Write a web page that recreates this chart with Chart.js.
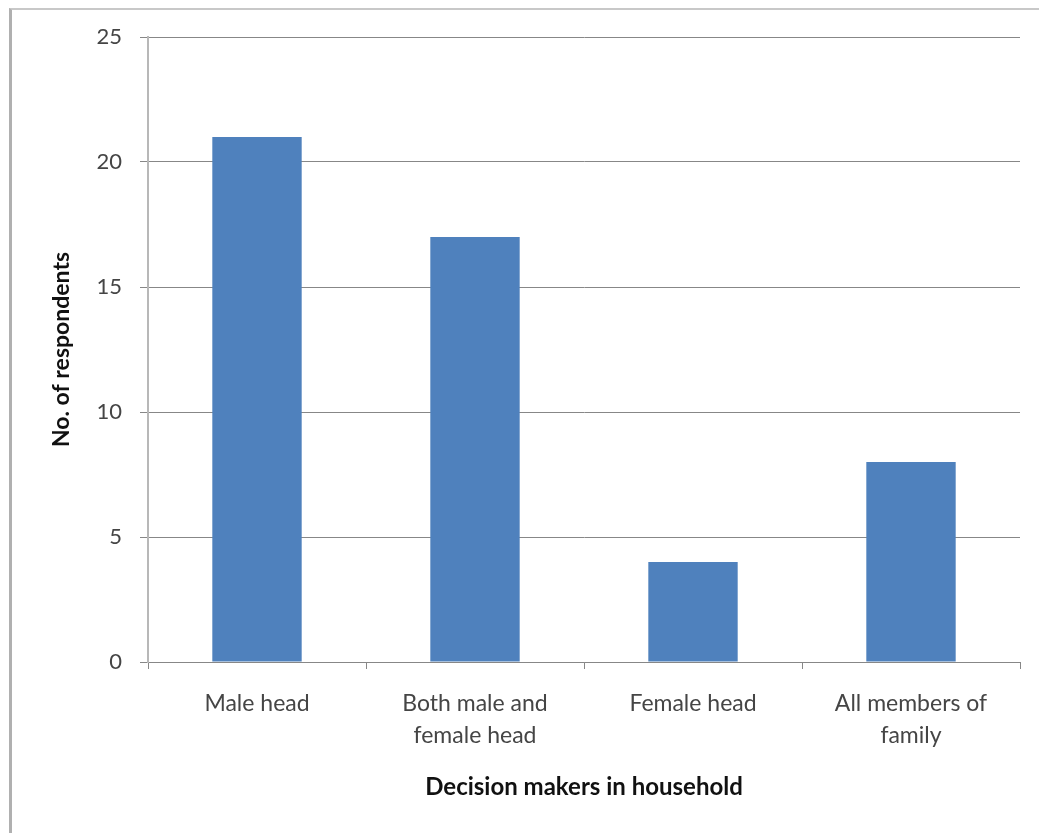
<!DOCTYPE html>
<html>
<head>
<meta charset="utf-8">
<script src="https://cdn.jsdelivr.net/npm/chart.js@4"></script>
<style>
  html, body { margin: 0; padding: 0; background: #fff; }
  .wrap { position: relative; width: 1039px; height: 833px; }
  .frame { position: absolute; left: 9px; top: 8px; right: 0; bottom: 0;
           border-left: 3px solid #b0b0b0; border-top: 2px solid #c8c8c8; pointer-events: none; }
  canvas { position: absolute; left: 0; top: 0; }
</style>
</head>
<body>
<div class="wrap">
  <canvas id="chart" width="1039" height="833"></canvas>
  <div class="frame"></div>
</div>
<script>
// datos
const categories = [
  'Male head',
  ['Both male and', 'female head'],
  'Female head',
  ['All members of', 'family']
];
const respondents = [21, 17, 4, 8];
const yTicks = [0, 5, 10, 15, 20, 25];

const gridGray = '#878787';
const textGray = '#454545';
const fam = 'Lato, "Open Sans", sans-serif';

new Chart(document.getElementById('chart'), {
  type: 'bar',
  data: {
    labels: categories,
    datasets: [{
      label: 'No. of respondents',
      data: respondents,
      backgroundColor: '#4f81bd',
      borderWidth: 0,
      categoryPercentage: 1,
      barPercentage: 0.41
    }]
  },
  options: {
    responsive: false,
    animation: false,
    layout: { padding: { top: 37, right: 19, left: 0, bottom: 0 } },
    plugins: { legend: { display: false }, tooltip: { enabled: false } },
    scales: {
      x: {
        afterFit: s => { s.height = 171; },
        grid: { display: true, drawOnChartArea: false, offset: true, tickLength: 7, color: gridGray },
        border: { display: true, color: gridGray },
        ticks: { color: textGray, font: { family: fam, size: 23, lineHeight: 1.4 }, padding: 18, maxRotation: 0 },
        title: {
          display: true, text: 'Decision makers in household',
          color: '#111', font: { family: fam, size: 24, weight: 'bold' },
          padding: { top: 0, bottom: 31 }
        }
      },
      y: {
        min: 0, max: 25,
        afterFit: s => { s.width = 148; },
        afterBuildTicks: s => { s.ticks = yTicks.map(v => ({ value: v })); },
        grid: { color: gridGray, tickLength: 8 },
        border: { display: true, color: '#b8b8b8', width: 2 },
        ticks: { color: textGray, font: { family: fam, size: 22 }, padding: 18 },
        title: {
          display: true, text: 'No. of respondents',
          color: '#111', font: { family: fam, size: 23, weight: 'bold' },
          padding: { top: 48, bottom: 0 }
        }
      }
    }
  }
});
</script>
</body>
</html>
